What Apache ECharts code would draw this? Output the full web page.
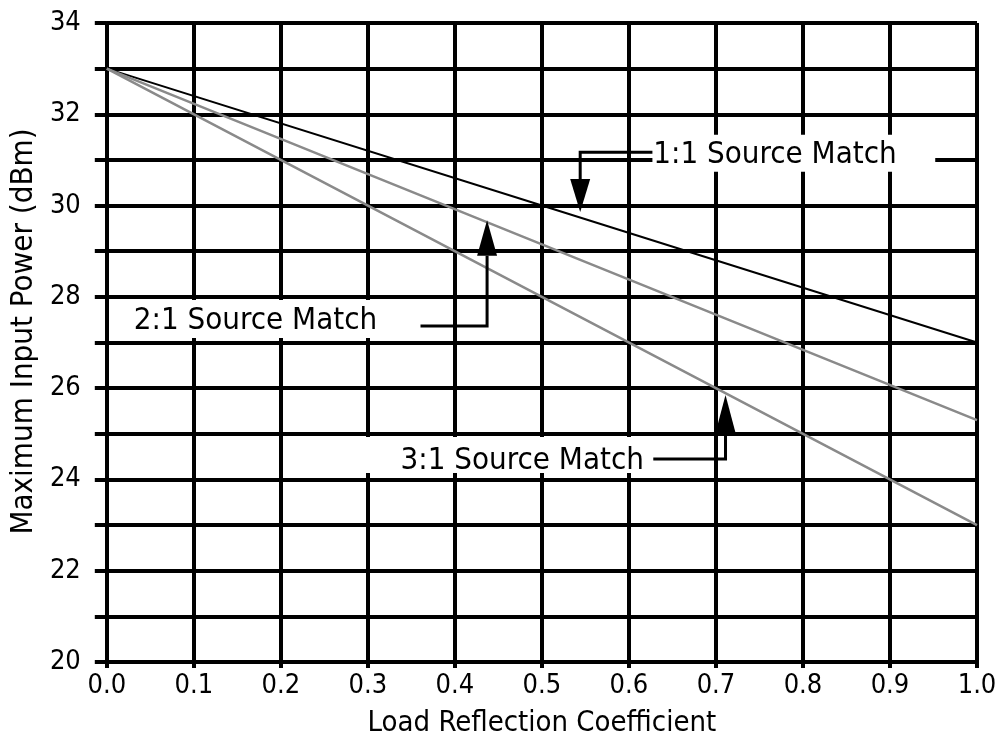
<!DOCTYPE html>
<html>
<head>
<meta charset="utf-8">
<script src="https://cdn.jsdelivr.net/npm/echarts@6/dist/echarts.min.js"></script>
<style>
html,body{margin:0;padding:0;background:#fff;}
#main{width:1002px;height:743px;}
</style>
</head>
<body>
<div id="main"></div>
<script>
// ---- data ----
const loadGamma = [0, 0.5, 1.0];
const match11 = [33.0, 30.0, 27.0];
const match21 = [33.0, 29.15, 25.3];
const match31 = [33.0, 28.0, 23.0];

const xTickLabels = ['0.0','0.1','0.2','0.3','0.4','0.5','0.6','0.7','0.8','0.9','1.0'];
const yTickLabels = [20, 22, 24, 26, 28, 30, 32, 34];

// annotation labels and their anchor points (in data coordinates)
const annLabels = ['1:1 Source Match', '2:1 Source Match', '3:1 Source Match'];
const annTextAt = [[0.628, 31.1], [0.031, 27.47], [0.3375, 24.41]];
const annBoxAt = [[0.627, 0.952, 31.55, 30.74], [0.02, 0.318, 27.93, 27.1], [0.294, 0.625, 24.93, 24.14]];
const annPathAt = [
  [[0.627, 31.17], [0.544, 31.17], [0.544, 30.58]],
  [[0.3605, 27.36], [0.437, 27.36], [0.437, 28.9]],
  [[0.628, 24.45], [0.711, 24.45], [0.711, 25.02]]
];
const annTipAt = [[0.544, 29.86], [0.437, 29.68], [0.711, 25.85]];

const FONT = '"DejaVu Sans Condensed", "Liberation Sans Narrow", sans-serif';

const chart = echarts.init(document.getElementById('main'), null, {renderer: 'canvas'});

function pairs(xs, ys) { return xs.map((x, i) => [x, ys[i]]); }

function renderAnn(params, api) {
  const i = params.dataIndex;
  const b = annBoxAt[i];
  const p0 = api.coord([b[0], b[2]]);
  const p1 = api.coord([b[1], b[3]]);
  const tp = api.coord(annTextAt[i]);
  const pts = annPathAt[i].map(p => api.coord(p));
  const base = pts[pts.length - 1];
  const tip = api.coord(annTipAt[i]);
  const hw = 10;
  return {
    type: 'group',
    children: [
      {type: 'rect', shape: {x: p0[0], y: p0[1], width: p1[0] - p0[0], height: p1[1] - p0[1]},
       style: {fill: '#fff'}},
      {type: 'text', style: {text: annLabels[i], x: tp[0], y: tp[1], align: 'left', verticalAlign: 'middle',
        font: '31px ' + FONT, fill: '#000'}},
      {type: 'polyline', shape: {points: pts}, style: {stroke: '#000', lineWidth: 3, fill: null}},
      {type: 'polygon', shape: {points: [[base[0] - hw, base[1]], [base[0] + hw, base[1]], tip]},
       style: {fill: '#000'}}
    ]
  };
}

const option = {
  backgroundColor: '#fff',
  animation: false,
  grid: {left: 106, right: 25, top: 23, bottom: 81, show: false},
  xAxis: {
    type: 'value', min: 0, max: 1, interval: 0.1,
    name: 'Load Reflection Coefficient', nameLocation: 'middle', nameGap: 47,
    nameTextStyle: {fontFamily: FONT, fontSize: 29, color: '#000'},
    axisLine: {show: true, onZero: false, lineStyle: {color: '#000', width: 4}},
    axisTick: {show: true, length: 6, lineStyle: {color: '#000', width: 4}},
    axisLabel: {margin: 10, fontFamily: FONT, fontSize: 27, color: '#000',
      formatter: v => xTickLabels[Math.round(v * 10)] || ''},
    splitLine: {show: true, lineStyle: {color: '#000', width: 4}}
  },
  yAxis: {
    type: 'value', min: 20, max: 34, interval: 1,
    name: 'Maximum Input Power (dBm)', nameLocation: 'middle', nameGap: 65,
    nameTextStyle: {fontFamily: FONT, fontSize: 31, color: '#000', padding: [0, 0, 0, 22]},
    axisLine: {show: true, lineStyle: {color: '#000', width: 4}},
    axisTick: {show: true, length: 12, lineStyle: {color: '#000', width: 4}},
    axisLabel: {margin: 26, fontFamily: FONT, fontSize: 27, color: '#000',
      formatter: v => yTickLabels.indexOf(v) >= 0 ? String(v) : ''},
    splitLine: {show: true, lineStyle: {color: '#000', width: 4}}
  },
  series: [
    {name: '1:1', type: 'line', data: pairs(loadGamma, match11), symbol: 'none',
     lineStyle: {color: '#000', width: 2}, z: 3},
    {name: '2:1', type: 'line', data: pairs(loadGamma, match21), symbol: 'none',
     lineStyle: {color: '#8a8a8a', width: 2.5}, z: 3},
    {name: '3:1', type: 'line', data: pairs(loadGamma, match31), symbol: 'none',
     lineStyle: {color: '#8a8a8a', width: 2.5}, z: 3},
    {name: 'annotations', type: 'custom', coordinateSystem: 'cartesian2d', clip: false, z: 5,
     data: annTextAt.map((p, i) => [p[0], p[1], i]), renderItem: renderAnn, silent: true}
  ]
};
chart.setOption(option);
</script>
</body>
</html>
